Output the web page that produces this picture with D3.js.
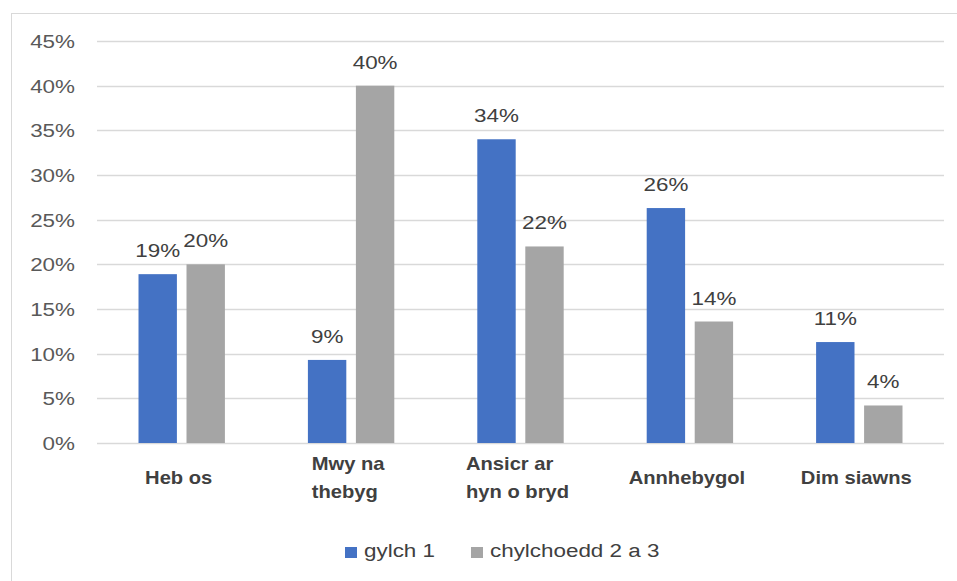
<!DOCTYPE html>
<html>
<head>
<meta charset="utf-8">
<script src="https://cdn.jsdelivr.net/npm/d3@7"></script>
<style>
  body { margin: 0; background: #fff; }
  text { font-family: "Liberation Sans", Arial, sans-serif; }
</style>
</head>
<body>
<div id="chart"></div>
<script>
// ---------------- data ----------------
var categories = [["Heb os"], ["Mwy na", "thebyg"], ["Ansicr ar", "hyn o bryd"], ["Annhebygol"], ["Dim siawns"]];
var seriesNames = ["gylch 1", "chylchoedd 2 a 3"];
var gylch1 = [18.9, 9.3, 34.0, 26.3, 11.3];
var chylchoedd = [20.0, 40.0, 22.0, 13.6, 4.2];
var yTicks = [0, 5, 10, 15, 20, 25, 30, 35, 40, 45];
var colours = ["#4472C4", "#A5A5A5"];

// ---------------- setup ----------------
var width = 957, height = 581;
var plot = { left: 97, right: 944, top: 41, bottom: 443 };
var sx = 1.18; // text in the picture is stretched sideways
var catSx = 1.12;

var svg = d3.select("#chart").append("svg")
  .attr("width", width)
  .attr("height", height);

svg.append("rect")
  .attr("x", 11.5).attr("y", 13.5)
  .attr("width", 980).attr("height", 620)
  .attr("fill", "#fff")
  .attr("stroke", "#d9d9d9");

var catKeys = categories.map(function (d) { return d.join(" "); });

var x0 = d3.scaleBand()
  .domain(catKeys)
  .range([plot.left, plot.right])
  .paddingInner(0.49)
  .paddingOuter(0.245);

var x1 = d3.scaleBand()
  .domain(seriesNames)
  .range([0, x0.bandwidth()])
  .paddingInner(0.2);

var y = d3.scaleLinear()
  .domain([0, 45])
  .range([plot.bottom, plot.top]);

function stretched(g, x, yy, str, anchor, k) {
  return g.append("text")
    .attr("transform", "translate(" + x + "," + yy + ") scale(" + (k || sx) + ",1)")
    .attr("text-anchor", anchor)
    .text(str);
}

// gridlines + y labels
var grid = svg.append("g");
yTicks.forEach(function (t) {
  grid.append("line")
    .attr("x1", plot.left).attr("x2", plot.right)
    .attr("y1", Math.round(y(t)) + 0.5).attr("y2", Math.round(y(t)) + 0.5)
    .attr("stroke", "#d9d9d9").attr("stroke-width", 1.3);
  stretched(grid, 75, y(t) + 7, t + "%", "end")
    .attr("font-size", 19).attr("fill", "#595959");
});

// bars
var rows = catKeys.map(function (c, i) {
  return { cat: c, vals: [gylch1[i], chylchoedd[i]] };
});

var groups = svg.selectAll(".grp")
  .data(rows)
  .enter().append("g")
  .attr("class", "grp")
  .attr("transform", function (d) { return "translate(" + x0(d.cat) + ",0)"; });

groups.selectAll("rect")
  .data(function (d) { return d.vals.map(function (v, j) { return { s: seriesNames[j], v: v, j: j }; }); })
  .enter().append("rect")
  .attr("x", function (d) { return x1(d.s); })
  .attr("y", function (d) { return y(d.v); })
  .attr("width", x1.bandwidth())
  .attr("height", function (d) { return y(0) - y(d.v); })
  .attr("fill", function (d) { return colours[d.j]; });

groups.each(function (d) {
  var g = d3.select(this);
  d.vals.forEach(function (v, j) {
    stretched(g, x1(seriesNames[j]) + x1.bandwidth() / 2, y(v) - 17, Math.round(v) + "%", "middle")
      .attr("font-size", 19).attr("fill", "#404040");
  });
});

// category labels
var catG = svg.append("g");
categories.forEach(function (lines, i) {
  var cx = x0(catKeys[i]) + x0.bandwidth() / 2 - 3;
  var top = 477 - (lines.length - 1) * 14 + 7;
  var texts = lines.map(function (l, k) {
    return catG.append("text")
      .attr("font-size", 18)
      .attr("font-weight", "bold")
      .attr("fill", "#404040")
      .datum(top + k * 28)
      .text(l);
  });
  var w = d3.max(texts, function (t) { return t.node().getComputedTextLength(); }) * catSx;
  texts.forEach(function (t) {
    var tx = lines.length === 1 ? cx : cx - w / 2;
    t.attr("text-anchor", lines.length === 1 ? "middle" : "start")
      .attr("transform", "translate(" + tx + "," + t.datum() + ") scale(" + catSx + ",1)");
  });
});

// legend
var leg = svg.append("g");
var lx = 345;
seriesNames.forEach(function (name, j) {
  leg.append("rect")
    .attr("x", lx).attr("y", 547)
    .attr("width", 12).attr("height", 11)
    .attr("fill", colours[j]);
  var t = stretched(leg, lx + 19, 557, name, "start")
    .attr("font-size", 19).attr("fill", "#404040");
  lx += 19 + t.node().getComputedTextLength() * sx + 36;
});
</script>
</body>
</html>
